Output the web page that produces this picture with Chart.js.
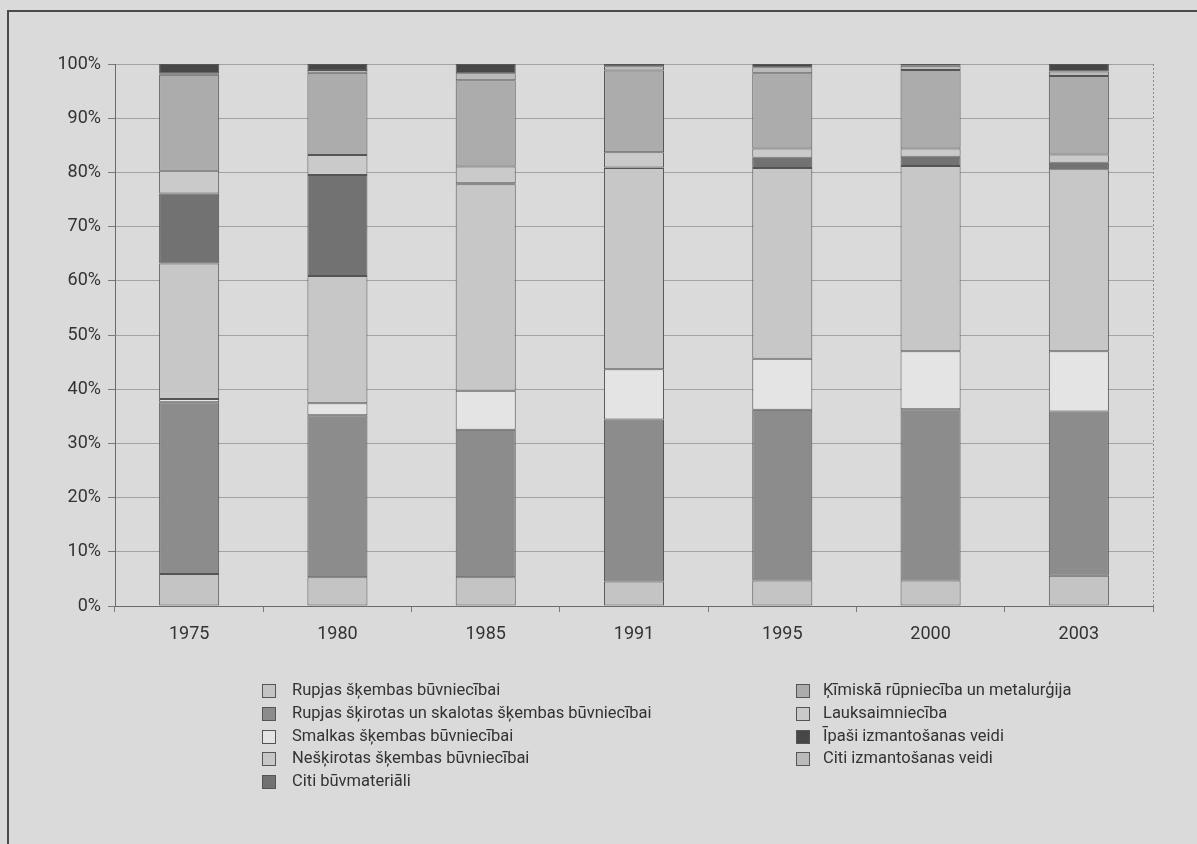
<!DOCTYPE html>
<html>
<head>
<meta charset="utf-8">
<script src="https://cdn.jsdelivr.net/npm/chart.js@4.4.1/dist/chart.umd.min.js"></script>
<style>
  html, body { margin: 0; padding: 0; background: #dadada; }
  #wrap { position: relative; width: 1197px; height: 844px; overflow: hidden; }
  #frame { position: absolute; left: 7px; top: 10px; width: 1200px; height: 850px;
           border-top: 2px solid #4a4a4a; border-left: 2px solid #4a4a4a; }
  canvas { position: absolute; left: 0; top: 0; }
  .legend { position: absolute; font-family: 'Liberation Sans Narrow', 'Roboto', sans-serif;
            font-size: 16.5px; color: #333; }
  .legend div { height: 22.8px; line-height: 22.8px; white-space: nowrap; position: relative; }
  .legend span.sw { position: absolute; top: 5px; width: 12px; height: 12px; border: 1px solid #555; }
</style>
</head>
<body>
<div id="wrap">
  <div id="frame"></div>
  <canvas id="dolomitsChart" width="1197" height="844"></canvas>
  <div class="legend" id="legLeft" style="left:262px; top:679px;"></div>
  <div class="legend" id="legRight" style="left:796px; top:679px;"></div>
</div>
<script>
const gadi = ['1975', '1980', '1985', '1991', '1995', '2000', '2003'];

// procenti no kopējā apjoma (nolasīti no attēla), secībā no apakšas uz augšu
const rupjasSkembas = [5.9, 5.3, 5.3, 4.5, 4.7, 4.7, 5.6];
const rupjasSkirotas = [31.7, 29.9, 27.2, 29.9, 31.5, 31.6, 30.3];
const smalkasSkembas = [0.6, 2.2, 7.2, 9.3, 9.4, 10.7, 11.1];
const neskirotasSkembas = [25.0, 23.5, 38.1, 37.1, 35.2, 34.2, 33.6];
const citiBuvmateriali = [12.9, 18.6, 0.2, 0.1, 1.9, 1.7, 1.2];
const lauksaimnieciba = [4.2, 3.7, 3.1, 2.8, 1.7, 1.5, 1.5];
const kimiskaRupnieciba = [17.7, 15.2, 15.9, 15.1, 13.9, 14.5, 14.5];
const citiIzmantosanas = [0.3, 0.5, 1.3, 0.8, 1.1, 0.8, 0.8];
const ipasiIzmantosanas = [1.7, 1.1, 1.7, 0.4, 0.6, 0.3, 1.4];

const yTicks = [0, 10, 20, 30, 40, 50, 60, 70, 80, 90, 100];

const serijas = [
    { label: 'Rupjas šķembas būvniecībai', data: rupjasSkembas, color: '#c4c4c4' },
    { label: 'Rupjas šķirotas un skalotas šķembas būvniecībai', data: rupjasSkirotas, color: '#8c8c8c' },
    { label: 'Smalkas šķembas būvniecībai', data: smalkasSkembas, color: '#e4e4e4' },
    { label: 'Nešķirotas šķembas būvniecībai', data: neskirotasSkembas, color: '#c7c7c7' },
    { label: 'Citi būvmateriāli', data: citiBuvmateriali, color: '#727272' },
    { label: 'Lauksaimniecība', data: lauksaimnieciba, color: '#cacaca' },
    { label: 'Ķīmiskā rūpniecība un metalurģija', data: kimiskaRupnieciba, color: '#acacac' },
    { label: 'Citi izmantošanas veidi', data: citiIzmantosanas, color: '#bababa' },
    { label: 'Īpaši izmantošanas veidi', data: ipasiIzmantosanas, color: '#474747' }
];

const legendaKreisa = ['Rupjas šķembas būvniecībai', 'Rupjas šķirotas un skalotas šķembas būvniecībai',
    'Smalkas šķembas būvniecībai', 'Nešķirotas šķembas būvniecībai', 'Citi būvmateriāli'];
const legendaLaba = ['Ķīmiskā rūpniecība un metalurģija', 'Lauksaimniecība',
    'Īpaši izmantošanas veidi', 'Citi izmantošanas veidi'];

const fonts = "'Liberation Sans Narrow', 'Roboto', sans-serif";

// labā malas punktotā līnija
const ramisPlugin = {
    id: 'ramis',
    afterDraw(chart) {
        const { ctx, chartArea } = chart;
        ctx.save();
        ctx.strokeStyle = '#8a8a8a';
        ctx.lineWidth = 1;
        ctx.setLineDash([2, 2]);
        ctx.beginPath();
        ctx.moveTo(chartArea.right + 0.5, chartArea.top);
        ctx.lineTo(chartArea.right + 0.5, chartArea.bottom + 6);
        ctx.stroke();
        ctx.restore();
    }
};

const ctx = document.getElementById('dolomitsChart').getContext('2d');
new Chart(ctx, {
    type: 'bar',
    data: {
        labels: gadi,
        datasets: serijas.map(s => ({
            label: s.label,
            data: s.data,
            backgroundColor: s.color,
            borderColor: '#555555',
            borderWidth: 1,
            borderSkipped: false,
            barPercentage: 0.81,
            categoryPercentage: 0.5
        }))
    },
    options: {
        responsive: false,
        animation: false,
        layout: { padding: { top: 64, right: 44, left: 0, bottom: 0 } },
        plugins: {
            legend: { display: false },
            tooltip: { enabled: false }
        },
        scales: {
            x: {
                stacked: true,
                afterFit(scale) { scale.height = 238; },
                grid: { display: true, drawOnChartArea: false, drawTicks: true, tickLength: 6, color: '#7a7a7a' },
                border: { display: true, color: '#6a6a6a', width: 1 },
                ticks: { color: '#333', font: { family: fonts, size: 18 }, padding: 12 }
            },
            y: {
                stacked: true,
                min: 0,
                max: 100,
                afterFit(scale) { scale.width = 115; },
                afterBuildTicks(scale) { scale.ticks = yTicks.map(v => ({ value: v })); },
                grid: {
                    color: '#a2a2a2',
                    tickColor: '#7a7a7a',
                    tickLength: 7
                },
                border: { display: true, color: '#6a6a6a', width: 1 },
                ticks: {
                    color: '#333',
                    font: { family: fonts, size: 18 },
                    padding: 7,
                    callback: v => v + '%'
                }
            }
        }
    },
    plugins: [ramisPlugin]
});

// leģenda divās kolonnās
function zimetLegendu(elId, nosaukumi, swLeft, textLeft) {
    const el = document.getElementById(elId);
    nosaukumi.forEach(n => {
        const s = serijas.find(x => x.label === n);
        const row = document.createElement('div');
        const sw = document.createElement('span');
        sw.className = 'sw';
        sw.style.left = swLeft + 'px';
        sw.style.background = s.color;
        const t = document.createElement('span');
        t.textContent = n;
        t.style.position = 'absolute';
        t.style.left = textLeft + 'px';
        row.appendChild(sw);
        row.appendChild(t);
        el.appendChild(row);
    });
}
zimetLegendu('legLeft', legendaKreisa, 0, 30);
zimetLegendu('legRight', legendaLaba, 0, 27);
</script>
</body>
</html>
